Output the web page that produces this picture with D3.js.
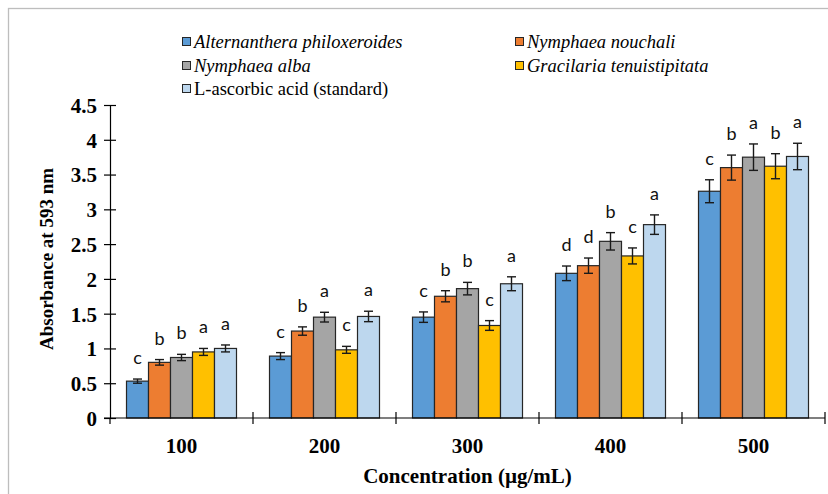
<!DOCTYPE html>
<html>
<head>
<meta charset="utf-8">
<script src="https://cdn.jsdelivr.net/npm/d3@7"></script>
<style>
  body { margin: 0; background: #fff; }
  svg { display: block; }
</style>
</head>
<body>
<div id="chart"></div>
<script>
var concentrations = ["100", "200", "300", "400", "500"];
var series = ["Alternanthera philoxeroides", "Nymphaea nouchali", "Nymphaea alba",
              "Gracilaria tenuistipitata", "L-ascorbic acid (standard)"];
var italicSeries = [true, true, true, true, false];
var colors = ["#5b9bd5", "#ed7d31", "#a5a5a5", "#ffc000", "#bdd7ee"];

// absorbance, one array per series, in concentration order
var absorbance = [
  [0.53, 0.89, 1.45, 2.08, 3.26],
  [0.80, 1.25, 1.75, 2.19, 3.60],
  [0.87, 1.45, 1.86, 2.54, 3.75],
  [0.95, 0.98, 1.33, 2.33, 3.62],
  [1.00, 1.46, 1.93, 2.78, 3.76]
];
var errors = [
  [0.03, 0.05, 0.075, 0.105, 0.165],
  [0.04, 0.06, 0.08, 0.11, 0.18],
  [0.045, 0.07, 0.09, 0.125, 0.19],
  [0.05, 0.05, 0.07, 0.115, 0.18],
  [0.05, 0.075, 0.1, 0.14, 0.19]
];
var letters = [
  ["c", "c", "c", "d", "c"],
  ["b", "b", "b", "d", "b"],
  ["b", "a", "b", "b", "a"],
  ["a", "c", "c", "c", "b"],
  ["a", "a", "a", "a", "a"]
];
var yTicks = [0, 0.5, 1, 1.5, 2, 2.5, 3, 3.5, 4, 4.5];

var width = 828, height = 494;
var margin = {left: 110, right: 3, top: 105, bottom: 76};
var serif = "'Liberation Serif', 'DejaVu Serif', serif";

var svg = d3.select("#chart").append("svg")
    .attr("width", width)
    .attr("height", height);

// outer chart frame (only top and left edges show)
svg.append("rect")
    .attr("x", 8.5).attr("y", 8.5)
    .attr("width", 860).attr("height", 520)
    .attr("fill", "none")
    .attr("stroke", "#bdbdbd")
    .attr("stroke-width", 1.3);

var x0 = d3.scaleBand()
    .domain(concentrations)
    .range([margin.left, width - margin.right]);

var x1 = d3.scaleBand()
    .domain(d3.range(series.length))
    .range([0, x0.bandwidth()])
    .paddingOuter(0.75);

var y = d3.scaleLinear()
    .domain([0, 4.5])
    .range([height - margin.bottom, margin.top]);

var rows = [];
concentrations.forEach(function(c, ci) {
  series.forEach(function(s, si) {
    rows.push({c: c, si: si, v: absorbance[si][ci], e: errors[si][ci], l: letters[si][ci]});
  });
});

// bars
svg.append("g").selectAll("rect")
  .data(rows)
  .enter().append("rect")
    .attr("x", d => x0(d.c) + x1(d.si))
    .attr("y", d => y(d.v))
    .attr("width", x1.bandwidth())
    .attr("height", d => y(0) - y(d.v))
    .attr("fill", d => colors[d.si])
    .attr("stroke", "#262626")
    .attr("stroke-width", 1.2);

// error bars
var eb = svg.append("g").attr("stroke", "#1a1a1a").attr("stroke-width", 1.4);
rows.forEach(function(d) {
  var cx = x0(d.c) + x1(d.si) + x1.bandwidth() / 2;
  eb.append("line").attr("x1", cx).attr("x2", cx).attr("y1", y(d.v + d.e)).attr("y2", y(d.v - d.e));
  eb.append("line").attr("x1", cx - 4.5).attr("x2", cx + 4.5).attr("y1", y(d.v + d.e)).attr("y2", y(d.v + d.e));
  eb.append("line").attr("x1", cx - 4.5).attr("x2", cx + 4.5).attr("y1", y(d.v - d.e)).attr("y2", y(d.v - d.e));
});

// significance letters
svg.append("g").selectAll("text")
  .data(rows)
  .enter().append("text")
    .attr("x", d => x0(d.c) + x1(d.si) + x1.bandwidth() / 2)
    .attr("y", d => y(d.v + d.e) - 15)
    .attr("text-anchor", "middle")
    .style("font-family", "Lato, 'Open Sans', sans-serif")
    .style("font-size", "18px")
    .attr("fill", "#111")
    .text(d => d.l);

// y axis
var yAxis = svg.append("g")
    .attr("transform", "translate(" + margin.left + ",0)")
    .call(d3.axisLeft(y).tickValues(yTicks).tickSizeInner(6).tickSizeOuter(0)
          .tickFormat(d => String(d)));
yAxis.select(".domain").attr("stroke", "#000").attr("stroke-width", 1.2);
yAxis.selectAll(".tick line").attr("x2", 6).attr("x1", -6).attr("stroke", "#000").attr("stroke-width", 1.2);
yAxis.selectAll(".tick text")
    .attr("x", -13)
    .attr("dy", "0.35em")
    .style("font-family", serif)
    .style("font-weight", "bold")
    .style("font-size", "21px")
    .attr("fill", "#000");

// x axis: ticks at category boundaries
var xg = svg.append("g");
xg.append("line")
    .attr("x1", margin.left - 6).attr("x2", width - margin.right)
    .attr("y1", y(0)).attr("y2", y(0))
    .attr("stroke", "#000").attr("stroke-width", 1.2);
var bounds = concentrations.map(c => x0(c)).concat([x0.range()[1]]);
xg.selectAll("line.bt")
  .data(bounds)
  .enter().append("line")
    .attr("class", "bt")
    .attr("x1", d => d).attr("x2", d => d)
    .attr("y1", d => d === margin.left ? y(0) : y(0) - 6)
    .attr("y2", y(0) + 6)
    .attr("stroke", "#000").attr("stroke-width", 1.2);
xg.selectAll("text")
  .data(concentrations)
  .enter().append("text")
    .attr("x", d => x0(d) + x0.bandwidth() / 2)
    .attr("y", y(0) + 35)
    .attr("text-anchor", "middle")
    .style("font-family", serif)
    .style("font-weight", "bold")
    .style("font-size", "21px")
    .text(d => d);

// axis titles
svg.append("text")
    .attr("x", (margin.left + width - margin.right) / 2)
    .attr("y", 483)
    .attr("text-anchor", "middle")
    .style("font-family", serif)
    .style("font-weight", "bold")
    .style("font-size", "21px")
    .text("Concentration (\u00b5g/mL)");

svg.append("text")
    .attr("transform", "translate(53,259) rotate(-90)")
    .attr("text-anchor", "middle")
    .style("font-family", serif)
    .style("font-weight", "bold")
    .style("font-size", "19px")
    .text("Absorbance at 593 nm");

// legend, two columns
var legendPos = [[182, 42], [515, 42], [182, 66], [515, 66], [182, 89]];
var legend = svg.append("g").selectAll("g")
  .data(series)
  .enter().append("g")
    .attr("transform", (d, i) => "translate(" + legendPos[i][0] + "," + legendPos[i][1] + ")");
legend.append("rect")
    .attr("x", 0.5).attr("y", -4.5)
    .attr("width", 8).attr("height", 8)
    .attr("fill", (d, i) => colors[i])
    .attr("stroke", "#262626")
    .attr("stroke-width", 1);
legend.append("text")
    .attr("x", 12)
    .attr("y", 0)
    .attr("dy", "0.33em")
    .attr("font-family", "Liberation Serif")
    .attr("font-size", 18.5)
    .attr("font-weight", "normal")
    .attr("font-style", (d, i) => italicSeries[i] ? "italic" : "normal")
    .text(d => d);
</script>
</body>
</html>
